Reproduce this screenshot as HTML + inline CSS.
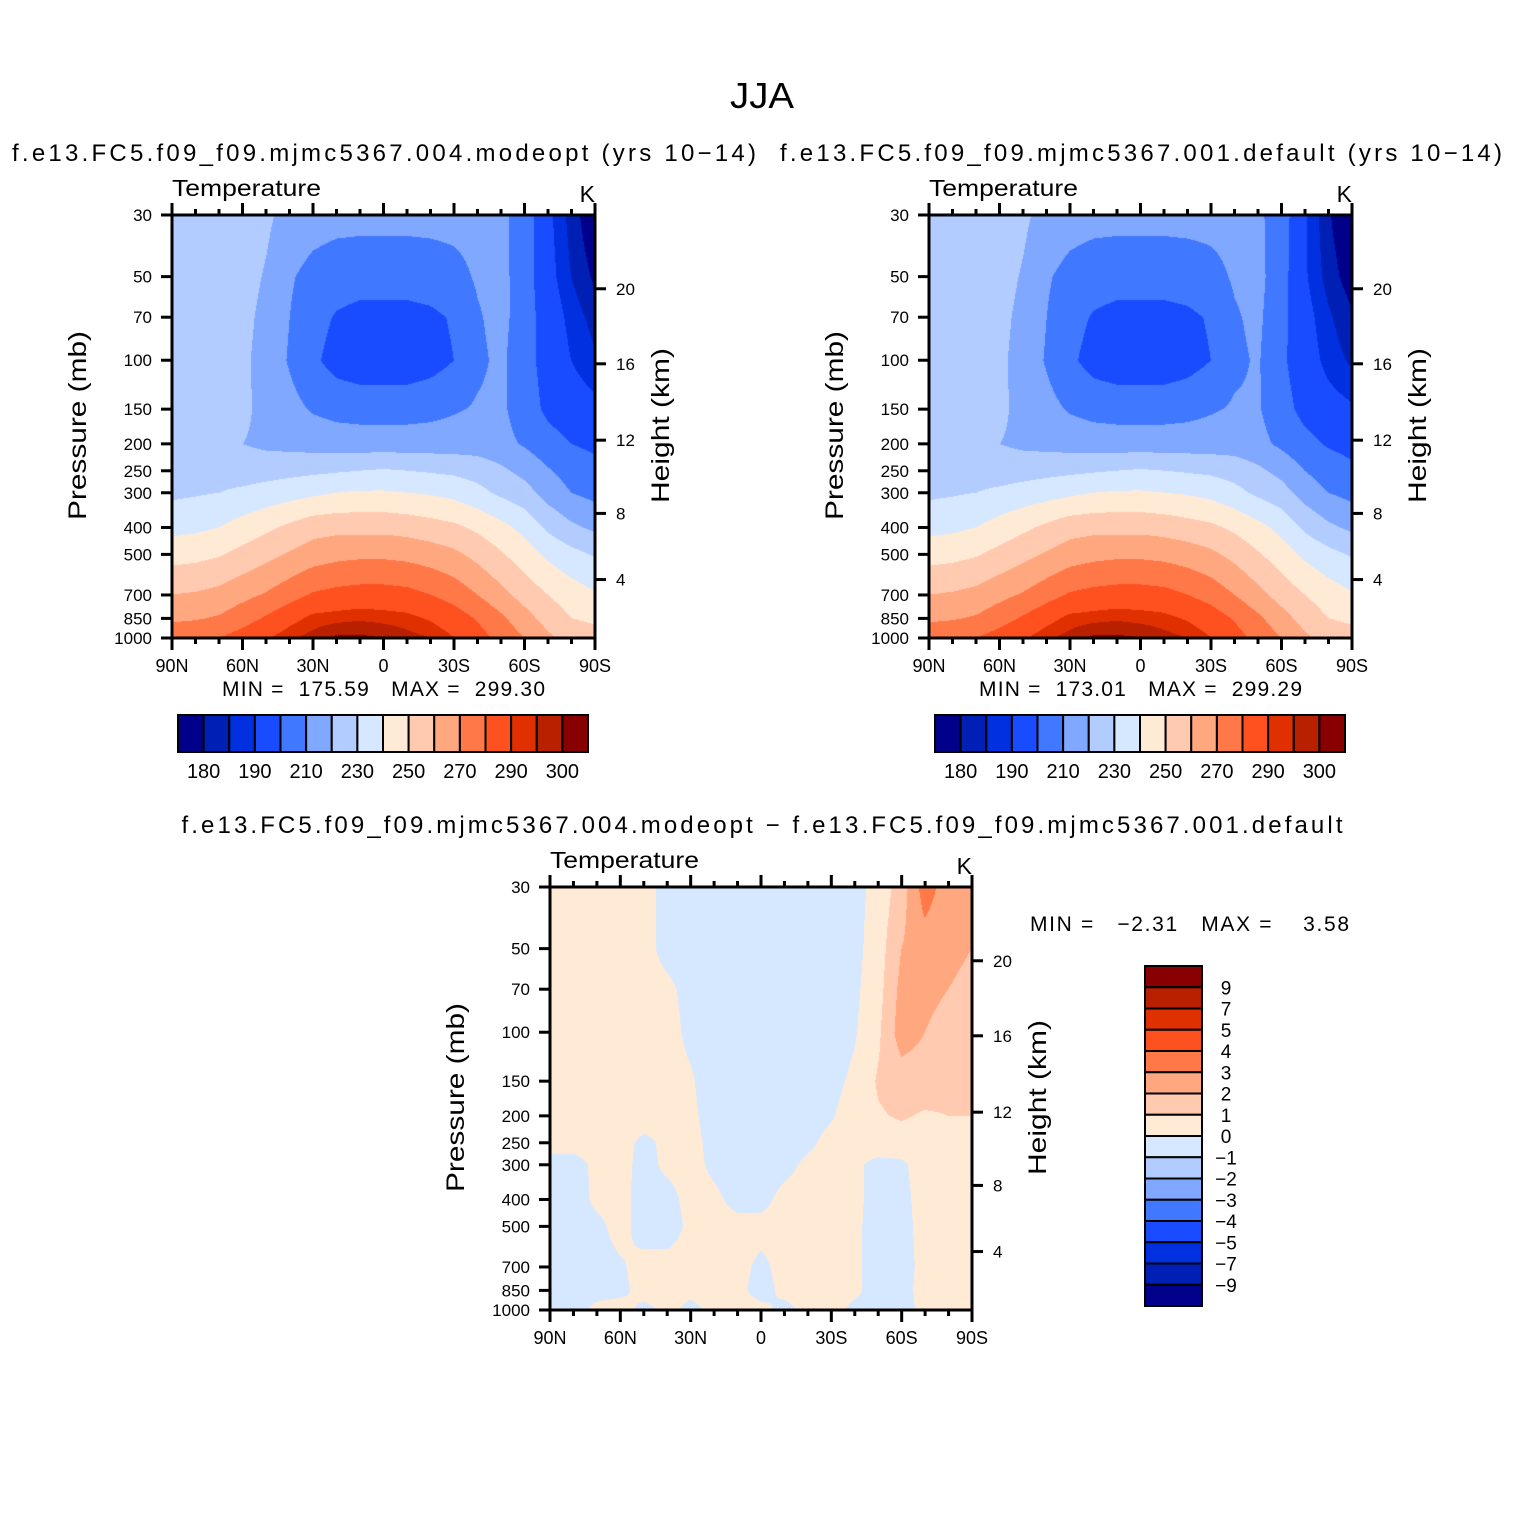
<!DOCTYPE html>
<html><head><meta charset="utf-8"><style>
body{margin:0;background:#fff;}
#root{position:relative;width:1524px;height:1524px;background:#fff;overflow:hidden;font-family:"Liberation Sans",sans-serif;}
canvas{position:absolute;}
svg{position:absolute;left:0;top:0;}
</style></head><body>
<div id="root">
<canvas id="c1" width="423" height="423" style="left:172px;top:215px"></canvas>
<canvas id="c2" width="423" height="423" style="left:929px;top:215px"></canvas>
<canvas id="c3" width="422" height="423" style="left:550px;top:887px"></canvas>
<svg id="ov" width="1524" height="1524" font-family="Liberation Sans, sans-serif"></svg>
</div>
<script>
const lats=[90,80,70,60,50,40,30,20,10,0,-10,-20,-30,-40,-50,-60,-70,-80,-90];
const plevs=[30,50,70,100,150,200,250,300,400,500,700,850,1000];
const tempLevels=[180,185,190,200,210,220,230,240,250,260,270,280,290,295,300];
const diffLevels=[-9,-7,-5,-4,-3,-2,-1,0,1,2,3,4,5,7,9];
const tempLabels=["180","190","210","230","250","270","290","300"];
const diffLabels=["9","7","5","4","3","2","1","0","\u22121","\u22122","\u22123","\u22124","\u22125","\u22127","\u22129"];
const colors=["#00008a","#0020b5","#0030e0","#1a4cff","#4078ff","#80a8ff","#b3ccff","#d6e8ff","#ffead6","#ffcab0","#ffa880","#ff7848","#ff5020","#e03000","#b82000","#880000"];
const heightKm=[4,8,12,16,20];
const heightP=[616,356,194,103,55.3];
const latTicks=[90,60,30,0,-30,-60,-90];
const latTickLabels=["90N","60N","30N","0","30S","60S","90S"];
const tempA=[
[225,225,225,225,222,216,214,213,213,213,213,213,213,213,212,206,192,183,175],
[226,226,225,224,219,211,207,205,204,204,204,205,207,211,213,205,193,185,179],
[226,226,225,223,217,210,204,199,197,197,197,198,201,209,213,205,195,188,183],
[226,226,225,222,216,209,202,196,194,194,194,196,200,208,212,204,196,190,186],
[226,226,225,222,217,213,209,207,206,206,206,207,209,211,212,205,198,194,192],
[226,225,223,220,218,217,216,215,215,215,215,215,215,215,213,209,204,200,198],
[227,227,226,225,226,227,228,229,230,231,230,229,228,226,222,217,211,206,203],
[228,229,230,232,234,236,238,240,241,241,240,239,237,233,228,224,216,210,207],
[237,238,240,244,248,252,256,257,257,257,256,254,252,248,243,237,228,222,218],
[246,247,249,253,257,261,265,267,268,268,267,265,262,257,251,245,238,233,229],
[260,261,263,267,271,276,281,283,284,284,283,280,276,270,263,256,250,245,241],
[268,269,271,276,281,287,292,293,294,293,292,289,285,279,272,264,256,250,248],
[277,278,280,284,289,294,297,301,301,300,297,295,290,284,277,270,262,256,254]];
const tempB=[
[225,225,225,225,222,216,214,213,213,213,213,213,213,213,212,205,191,181,173],
[226,226,225,224,219,211,207,205,204,204,204,205,207,211,213,204,191,183,177],
[226,226,225,223,217,210,204,199,197,197,197,198,201,209,212,203,193,186,181],
[226,226,225,222,216,209,202,196,194,194,194,196,200,208,211,202,194,188,184],
[226,226,225,222,217,213,209,207,206,206,206,207,209,211,211,204,197,193,191],
[226,225,223,220,218,217,216,215,215,215,215,215,215,215,213,208,203,199,197],
[227,227,226,225,226,227,228,229,230,231,230,229,228,226,222,217,210,205,202],
[228,229,230,232,234,236,238,240,241,241,240,239,237,233,228,224,216,210,207],
[237,238,240,244,248,252,256,257,257,257,256,254,252,248,243,237,228,222,218],
[246,247,249,253,257,261,265,267,268,268,267,265,262,257,251,245,238,233,229],
[260,261,263,267,271,276,281,283,284,284,283,280,276,270,263,256,250,245,241],
[268,269,271,276,281,287,292,293,294,293,292,289,285,279,272,264,256,250,248],
[277,278,280,284,289,294,297,301,301,300,297,295,290,284,277,270,262,256,254]];
const diffC=[
[0.5,0.5,0.5,0.5,0.3,-0.3,-0.5,-0.5,-0.5,-0.5,-0.5,-0.5,-0.5,-0.3,0.3,1.5,3.5,2.5,2.2],
[0.5,0.5,0.5,0.5,0.3,-0.3,-0.5,-0.5,-0.5,-0.5,-0.5,-0.5,-0.5,-0.3,0.5,2,2.5,2.2,2.0],
[0.5,0.5,0.5,0.5,0.4,0.2,-0.3,-0.5,-0.5,-0.5,-0.5,-0.5,-0.5,-0.2,0.6,2.3,2.3,2.0,1.8],
[0.5,0.5,0.5,0.5,0.4,0.3,-0.2,-0.5,-0.5,-0.5,-0.5,-0.5,-0.5,-0.1,0.8,2.5,2.0,1.6,1.5],
[0.5,0.5,0.5,0.5,0.4,0.3,0.1,-0.5,-0.5,-0.5,-0.5,-0.5,-0.3,0.2,1.1,1.5,1.5,1.3,1.3],
[0.4,0.4,0.5,0.5,0.4,0.3,0.2,-0.4,-0.5,-0.5,-0.5,-0.4,-0.1,0.5,0.9,1.1,0.9,1.0,1.0],
[0.2,0.3,0.4,0.3,-0.2,0.2,0.3,-0.3,-0.5,-0.5,-0.4,-0.2,0.3,0.5,0.6,0.6,0.6,0.6,0.6],
[-0.2,-0.3,0.2,0.3,-0.3,0.2,0.3,-0.2,-0.5,-0.5,-0.3,0.2,0.4,0.2,-0.3,-0.2,0.5,0.6,0.6],
[-0.3,-0.4,0.2,0.3,-0.4,-0.3,0.3,0.2,-0.3,-0.3,0.3,0.4,0.3,0.2,-0.3,-0.3,0.4,0.5,0.5],
[-0.3,-0.3,-0.2,0.3,-0.4,-0.4,0.2,0.3,0.3,0.3,0.3,0.3,0.3,0.2,-0.4,-0.3,0.3,0.4,0.5],
[-0.4,-0.3,-0.3,-0.1,0.3,0.3,0.3,0.2,0.3,-0.2,0.3,0.3,0.3,0.2,-0.4,-0.4,0.3,0.3,0.4],
[-0.4,-0.3,-0.3,-0.2,0.3,0.3,0.2,0.3,0.2,-0.3,0.2,0.3,0.3,0.2,-0.4,-0.3,0.3,0.3,0.3],
[-0.3,-0.3,0.2,0.3,-0.2,0.2,-0.2,0.2,0.3,0.2,-0.2,0.2,0.3,-0.2,-0.3,-0.3,0.2,0.2,0.3]];

const NS="http://www.w3.org/2000/svg";
const ov=document.getElementById('ov');
function el(tag,attrs,txt){const e=document.createElementNS(NS,tag);for(const k in attrs)e.setAttribute(k,attrs[k]);if(txt!==undefined)e.textContent=txt;ov.appendChild(e);return e;}
function hex(c){return [parseInt(c.substr(1,2),16),parseInt(c.substr(3,2),16),parseInt(c.substr(5,2),16)];}
const rgb=colors.map(hex);
const lp0=Math.log10(30),lp1=Math.log10(1000);
function yOfP(p,h){return (Math.log10(p)-lp0)/(lp1-lp0)*h;}
function xOfLat(lat,w){return (90-lat)/180*w;}
function levelIndex(v,levels){let i=0;while(i<levels.length&&v>=levels[i])i++;return i;}

function drawField(id,data,levels){
  const cv=document.getElementById(id),ctx=cv.getContext('2d');
  const W=cv.width,H=cv.height,img=ctx.createImageData(W,H);
  const rowY=plevs.map(p=>yOfP(p,H-1));
  for(let y=0;y<H;y++){
    let r=0;while(r<plevs.length-2&&y>rowY[r+1])r++;
    const fy=Math.min(1,Math.max(0,(y-rowY[r])/(rowY[r+1]-rowY[r])));
    for(let x=0;x<W;x++){
      const fx=x/(W-1)*(lats.length-1);let c=Math.min(lats.length-2,Math.floor(fx));const tx=fx-c;
      const v=(data[r][c]*(1-tx)+data[r][c+1]*tx)*(1-fy)+(data[r+1][c]*(1-tx)+data[r+1][c+1]*tx)*fy;
      const k=rgb[levelIndex(v,levels)],o=(y*W+x)*4;
      img.data[o]=k[0];img.data[o+1]=k[1];img.data[o+2]=k[2];img.data[o+3]=255;
    }
  }
  ctx.putImageData(img,0,0);
}
drawField('c1',tempA,tempLevels);
drawField('c2',tempB,tempLevels);
drawField('c3',diffC,diffLevels);

function axes(x0,y0,w,h,name){
  let e=el('rect',{x:x0,y:y0,width:w,height:h,fill:'none',stroke:'#000','stroke-width':3});
  
  plevs.forEach(p=>{const y=y0+yOfP(p,h);
    el('line',{x1:x0-11,y1:y,x2:x0,y2:y,stroke:'#000','stroke-width':3});
    const t=el('text',{x:x0-20,y:y+6,'font-size':17,'text-anchor':'end'},String(p));
    });
  heightKm.forEach((k,i)=>{const y=y0+yOfP(heightP[i],h);
    el('line',{x1:x0+w,y1:y,x2:x0+w+11,y2:y,stroke:'#000','stroke-width':3});
    const t=el('text',{x:x0+w+21,y:y+6,'font-size':17},String(k));
    });
  for(let lat=90;lat>=-90;lat-=10){const x=x0+xOfLat(lat,w);const maj=lat%30===0;const L=maj?12:6;
    el('line',{x1:x,y1:y0,x2:x,y2:y0-L,stroke:'#000','stroke-width':3});
    el('line',{x1:x,y1:y0+h,x2:x,y2:y0+h+L,stroke:'#000','stroke-width':3});}
  latTicks.forEach((lat,i)=>{const t=el('text',{x:x0+xOfLat(lat,w),y:y0+h+34,'font-size':18,'text-anchor':'middle'},latTickLabels[i]);
    });
  let t=el('text',{x:x0,y:y0-19,'font-size':23,textLength:149,lengthAdjust:'spacingAndGlyphs'},'Temperature');
  
  t=el('text',{x:x0+w,y:y0-13,'font-size':23,'text-anchor':'end'},'K');
  
  t=el('text',{x:0,y:0,'font-size':25,'text-anchor':'middle',textLength:189,lengthAdjust:'spacingAndGlyphs',transform:`translate(${x0-86},${y0+h/2-1}) rotate(-90)`},'Pressure  (mb)');
  
  t=el('text',{x:0,y:0,'font-size':25,'text-anchor':'middle',textLength:155,lengthAdjust:'spacingAndGlyphs',transform:`translate(${x0+w+74},${y0+h/2-1}) rotate(-90)`},'Height  (km)');
  
}
axes(172,215,423,423,'plot-modeopt');
axes(929,215,423,423,'plot-default');
axes(550,887,422,423,'plot-difference');

function hbar(x0,y0,name){
  const bw=410/16;
  colors.forEach((c,i)=>{const r=el('rect',{x:x0+i*bw,y:y0,width:bw,height:37,fill:c,stroke:'#000','stroke-width':2});
    });
  tempLabels.forEach((s,i)=>{const t=el('text',{x:x0+(1+2*i)*bw,y:y0+63,'font-size':20,'text-anchor':'middle'},s);
    });
}
hbar(178,715,'colorbar-modeopt');
hbar(935,715,'colorbar-default');
(function(){const x0=1145,y0=966,bh=340/16;
  colors.slice().reverse().forEach((c,i)=>{const r=el('rect',{x:x0,y:y0+i*bh,width:57,height:bh,fill:c,stroke:'#000','stroke-width':2});
    });
  diffLabels.forEach((s,i)=>{const t=el('text',{x:1226,y:y0+(i+1)*bh+7,'font-size':19,'text-anchor':'middle'},s);
    });
})();
</script>
<svg width="1524" height="1524" style="position:absolute;left:0;top:0" font-family="Liberation Sans, sans-serif">
<text x="762" y="108" font-size="36" text-anchor="middle" textLength="64" lengthAdjust="spacingAndGlyphs">JJA</text>
<text x="384" y="161" font-size="24" text-anchor="middle" textLength="744">f.e13.FC5.f09_f09.mjmc5367.004.modeopt (yrs 10−14)</text>
<text x="1141" y="161" font-size="24" text-anchor="middle" textLength="722">f.e13.FC5.f09_f09.mjmc5367.001.default (yrs 10−14)</text>
<text x="762" y="833" font-size="24" text-anchor="middle" textLength="1161">f.e13.FC5.f09_f09.mjmc5367.004.modeopt − f.e13.FC5.f09_f09.mjmc5367.001.default</text>
<text x="222" y="696" font-size="21" textLength="323" xml:space="preserve">MIN =  175.59   MAX =  299.30</text>
<text x="979" y="696" font-size="21" textLength="323" xml:space="preserve">MIN =  173.01   MAX =  299.29</text>
<text x="1030" y="931" font-size="21" textLength="319" xml:space="preserve">MIN =   −2.31   MAX =    3.58</text>
</svg>
</body></html>
